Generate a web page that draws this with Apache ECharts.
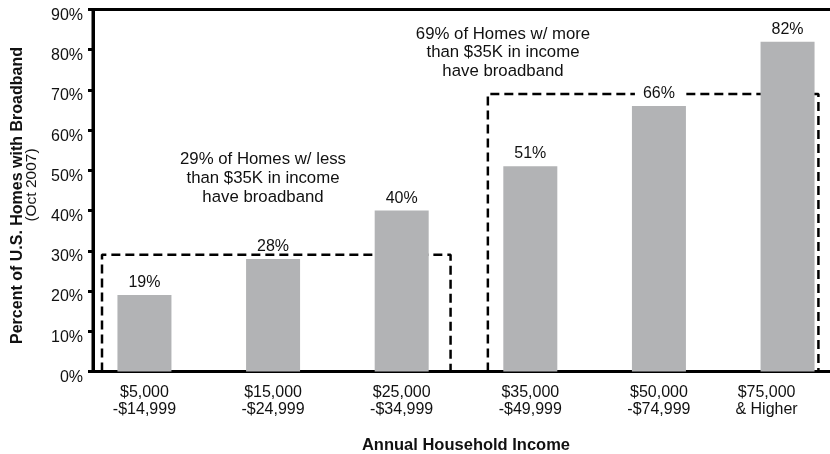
<!DOCTYPE html>
<html>
<head>
<meta charset="utf-8">
<script src="https://cdn.jsdelivr.net/npm/echarts@6/dist/echarts.min.js"></script>
<style>html,body{margin:0;padding:0;background:#fff}#c{width:830px;height:454px}</style>
</head>
<body>
<div id="c"></div>
<script>
// ---- data ----
var categories = ['$5,000\n-$14,999', '$15,000\n-$24,999', '$25,000\n-$34,999', '$35,000\n-$49,999', '$50,000\n-$74,999', '$75,000\n& Higher'];
var broadband = [19, 28, 40, 51, 66, 82];
var yTicks = [0, 10, 20, 30, 40, 50, 60, 70, 80, 90];
// group boxes (in category-index units on x, percent on y)
var boxLeft = [-0.33, 2.67];
var boxRight = [2.38, 5.24];
var boxTop = [29, 69];
var boxNotes = ['29% of Homes w/ less\nthan $35K in income\nhave broadband', '69% of Homes w/ more\nthan $35K in income\nhave broadband'];

var FONT = '"Liberation Sans", Arial, Helvetica, sans-serif';

var barData = broadband.map(function (v, i) { return [i, v]; });
function boxPath(k) {
  return [[boxLeft[k], 0], [boxLeft[k], boxTop[k]], [boxRight[k], boxTop[k]], [boxRight[k], 0]];
}
var lastIdx = categories.length - 1;

var chart = echarts.init(document.getElementById('c'), null, { renderer: 'canvas' });
chart.setOption({
  animation: false,
  backgroundColor: '#fff',
  textStyle: { fontFamily: FONT },
  grid: {
    left: 93, top: 9.5, bottom: 82.5, right: -9,
    outerBoundsMode: 'none', containLabel: false,
    show: true, borderColor: '#000', borderWidth: 3, backgroundColor: 'transparent'
  },
  xAxis: {
    type: 'value', min: -0.4, max: 5.4,
    axisLine: { show: true, onZero: false, lineStyle: { color: '#000', width: 3 } },
    axisTick: { show: false },
    splitLine: { show: false },
    axisLabel: {
      customValues: categories.map(function (c, i) { return i; }),
      fontSize: 16, color: '#111', fontFamily: FONT, lineHeight: 17, margin: 13,
      formatter: function (v) {
        var i = Math.round(v);
        var s = categories[i];
        if (i === lastIdx) {
          return s.split('\n').map(function (t) { return '{last|' + t + '}'; }).join('\n');
        }
        return s;
      },
      rich: { last: { fontSize: 16, fontFamily: FONT, color: '#111', lineHeight: 17, padding: [0, 42, 0, 0] } }
    },
    name: 'Annual Household Income',
    nameLocation: 'middle', nameGap: 65,
    nameTextStyle: { fontSize: 16.5, fontWeight: 'bold', color: '#111', fontFamily: FONT }
  },
  yAxis: {
    type: 'value', min: 0, max: 90, interval: 10,
    axisLine: { show: true, onZero: false, lineStyle: { color: '#000', width: 3 } },
    axisTick: { show: true, length: 5, lineStyle: { color: '#000', width: 3 } },
    splitLine: { show: false },
    axisLabel: {
      fontSize: 16, color: '#111', fontFamily: FONT, margin: 10,
      verticalAlign: 'top', lineHeight: 12,
      customValues: yTicks,
      formatter: function (v) { return v + '%'; }
    },
    name: '{b|Percent of U.S. Homes with Broadband}\n{n|(Oct 2007)}',
    nameLocation: 'middle', nameRotate: 90, nameGap: 51,
    nameTextStyle: {
      align: 'center',
      rich: {
        b: { fontSize: 16, fontWeight: 'bold', color: '#111', fontFamily: FONT, lineHeight: 16, padding: [0, 10, 0, 0] },
        n: { fontSize: 15.5, color: '#111', fontFamily: FONT, lineHeight: 13, padding: [0, 0, 0, 11] }
      }
    }
  },
  series: [
    {
      type: 'line', z: 1, data: boxPath(0), symbol: 'none', silent: true,
      lineStyle: { color: '#000', width: 2.5, type: [9, 5] }
    },
    {
      type: 'line', z: 1, data: boxPath(1), symbol: 'none', silent: true,
      lineStyle: { color: '#000', width: 2.5, type: [9, 5] }
    },
    {
      type: 'bar', z: 3, data: barData, barWidth: 54,
      itemStyle: { color: '#b2b3b5' },
      label: {
        show: true, position: 'top', distance: 6,
        fontSize: 16, color: '#111', fontFamily: FONT,
        backgroundColor: '#fff', padding: [0, 8], lineHeight: 13,
        formatter: function (p) { return p.value[1] + '%'; }
      }
    }
  ],
  graphic: [
    {
      type: 'text', x: 263, y: 150, z: 10,
      style: { text: boxNotes[0], align: 'center', verticalAlign: 'top', fontSize: 16.8, lineHeight: 19, fill: '#111', fontFamily: FONT }
    },
    {
      type: 'text', x: 503, y: 25, z: 10,
      style: { text: boxNotes[1], align: 'center', verticalAlign: 'top', fontSize: 16.8, lineHeight: 18.5, fill: '#111', fontFamily: FONT }
    }
  ]
});
</script>
</body>
</html>
